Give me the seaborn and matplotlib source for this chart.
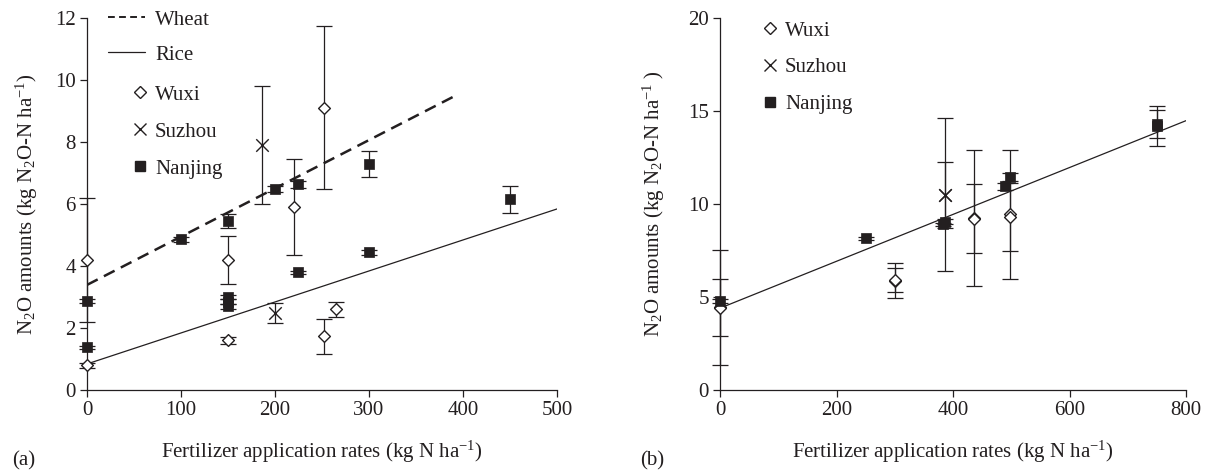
import matplotlib
matplotlib.use('Agg')
import matplotlib.pyplot as plt
import seaborn as sns
import numpy as np
from matplotlib.lines import Line2D

# ---------------- data: panel (a) ----------------
wuxi_a_x = [0, 0, 150, 150, 220, 252, 252, 265]
wuxi_a_y = [4.2, 0.8, 4.2, 1.6, 5.9, 9.1, 1.73, 2.6]
wuxi_a_err = [2.0, 0.08, 0.77, 0.1, 1.55, 2.63, 0.56, 0.25]

suzhou_a_x = [186, 200]
suzhou_a_y = [7.9, 2.48]
suzhou_a_err = [1.9, 0.32]

nanjing_a_x = [0, 0, 100, 150, 150, 150, 150, 200, 224, 224, 300, 300, 450]
nanjing_a_y = [2.87, 1.38, 4.87, 5.45, 3.0, 2.85, 2.7, 6.48, 6.63, 3.8, 7.29, 4.45, 6.15]
nanjing_a_err = [0.06, 0.05, 0.08, 0.23, 0.08, 0.08, 0.08, 0.1, 0.12, 0.05, 0.43, 0.08, 0.43]

wheat_x = [0, 391]
wheat_y = [3.39, 9.48]
rice_x = [0, 500]
rice_y = [0.84, 5.84]

# ---------------- data: panel (b) ----------------
wuxi_b_x = [0, 0, 300, 300, 436, 436, 497, 497]
wuxi_b_y = [4.45, 4.42, 5.88, 5.9, 9.25, 9.22, 9.45, 9.3]
wuxi_b_err = [3.08, 1.53, 0.94, 0.64, 3.68, 1.88, 3.47, 1.84]

suzhou_b_x = [386, 386]
suzhou_b_y = [10.5, 10.5]
suzhou_b_err = [4.1, 1.77]

nanjing_b_x = [0, 250, 383, 386, 490, 497, 750, 750]
nanjing_b_y = [4.8, 8.15, 8.9, 9.05, 10.95, 11.45, 14.2, 14.3]
nanjing_b_err = [0.1, 0.08, 0.1, 0.12, 0.2, 0.2, 1.07, 0.77]

fit_b_x = [0, 800]
fit_b_y = [4.4, 14.48]

xlabel = 'Fertilizer application rates (kg N ha$^{-1}$)'
ylabel_a = 'N$_2$O amounts (kg N$_2$O-N ha$^{-1}$)'
ylabel_b = 'N$_2$O amounts (kg N$_2$O-N ha$^{-1}$ )'

# ---------------- style ----------------
sns.set_theme(style='ticks')
plt.rcParams['font.family'] = ['Liberation Serif', 'DejaVu Serif']
plt.rcParams['mathtext.fontset'] = 'custom'
plt.rcParams['mathtext.rm'] = 'Liberation Serif'
plt.rcParams['mathtext.it'] = 'Liberation Serif:italic'
plt.rcParams['mathtext.default'] = 'regular'

INK = '#231F20'
FS = 15
W, H = 1216, 473

fig = plt.figure(figsize=(W / 100, H / 100), dpi=100)
axA = fig.add_axes([87 / W, 1 - 390 / H, 470 / W, 372 / H])
axB = fig.add_axes([720 / W, 1 - 390 / H, 466 / W, 372 / H])


def draw_site(ax, x, y, err, marker, ms, face, lw):
    ax.errorbar(x, y, yerr=err, fmt='none', ecolor=INK, elinewidth=0.9,
                capsize=5.5, capthick=0.9, zorder=2, clip_on=False)
    if marker == 'x':
        sns.scatterplot(x=x, y=y, marker=marker, s=ms ** 2, color=INK,
                        linewidth=lw, ax=ax, zorder=3, clip_on=False, legend=False)
    else:
        sns.scatterplot(x=x, y=y, marker=marker, s=ms ** 2, color=face,
                        edgecolor=INK, linewidth=lw, ax=ax, zorder=3,
                        clip_on=False, legend=False)


# panel a
sns.lineplot(x=wheat_x, y=wheat_y, ax=axA, color=INK, lw=1.8,
             linestyle=(0, (4.8, 2.8)), zorder=1)
sns.lineplot(x=rice_x, y=rice_y, ax=axA, color=INK, lw=0.9, zorder=1)
draw_site(axA, wuxi_a_x, wuxi_a_y, wuxi_a_err, 'D', 6, 'white', 1.0)
draw_site(axA, suzhou_a_x, suzhou_a_y, suzhou_a_err, 'x', 9, INK, 1.0)
draw_site(axA, nanjing_a_x, nanjing_a_y, nanjing_a_err, 's', 7, INK, 0.5)

# panel b
sns.lineplot(x=fit_b_x, y=fit_b_y, ax=axB, color=INK, lw=0.9, zorder=1)
draw_site(axB, wuxi_b_x, wuxi_b_y, wuxi_b_err, 'D', 6, 'white', 1.0)
draw_site(axB, suzhou_b_x, suzhou_b_y, suzhou_b_err, 'x', 9, INK, 1.0)
draw_site(axB, nanjing_b_x, nanjing_b_y, nanjing_b_err, 's', 7, INK, 0.5)

for ax, xl, yl, xt, yt, ylab, ylx in [
        (axA, (0, 500), (0, 12), np.arange(0, 501, 100), np.arange(0, 13, 2), ylabel_a, -0.10),
        (axB, (0, 800), (0, 20), np.arange(0, 801, 200), np.arange(0, 21, 5), ylabel_b, -0.113)]:
    ax.set_xlim(*xl)
    ax.set_ylim(*yl)
    ax.set_xticks(xt)
    ax.set_yticks(yt)
    ax.tick_params(direction='out', length=5, width=0.9, colors=INK,
                   labelsize=FS, pad=3)
    sns.despine(ax=ax)
    for s in ('left', 'bottom'):
        ax.spines[s].set_linewidth(0.9)
        ax.spines[s].set_color(INK)
    ax.set_xlabel(xlabel, fontsize=FS, color=INK)
    ax.set_ylabel(ylab, fontsize=FS, color=INK)
    ax.xaxis.set_label_coords(0.5, -0.132)
    ax.yaxis.set_label_coords(ylx, 0.5)
    ax.grid(False)

# legends
line_handles = [Line2D([], [], color=INK, lw=1.4, linestyle=(0, (3.5, 2.2))),
                Line2D([], [], color=INK, lw=0.9)]
mark_handles = [Line2D([], [], ls='none', marker='D', ms=6, mfc='white', mec=INK, mew=1.0),
                Line2D([], [], ls='none', marker='x', ms=9, color=INK, mew=1.0),
                Line2D([], [], ls='none', marker='s', ms=7, color=INK)]

leg_common = dict(frameon=False, fontsize=FS, borderpad=0, borderaxespad=0,
                  loc='upper left', bbox_transform=fig.transFigure, labelcolor=INK)
legA1 = axA.legend(line_handles, ['Wheat', 'Rice'], handlelength=1.78,
                   handletextpad=0.48, labelspacing=0.74,
                   bbox_to_anchor=(108 / W, 1 - 10 / H), **leg_common)
axA.add_artist(legA1)
axA.legend(mark_handles, ['Wuxi', 'Suzhou', 'Nanjing'], handlelength=0.8,
           handletextpad=0.3, labelspacing=0.84,
           bbox_to_anchor=(132 / W, 1 - 85 / H), **leg_common)
axB.legend(mark_handles, ['Wuxi', 'Suzhou', 'Nanjing'], handlelength=0.8,
           handletextpad=0.3, labelspacing=0.82,
           bbox_to_anchor=(762 / W, 1 - 21 / H), **leg_common)

fig.text(12 / W, 1 - 461 / H, '(a)', fontsize=FS, color=INK, va='center', ha='left')
fig.text(640 / W, 1 - 461 / H, '(b)', fontsize=FS, color=INK, va='center', ha='left')

fig.savefig('out.png', dpi=100)
